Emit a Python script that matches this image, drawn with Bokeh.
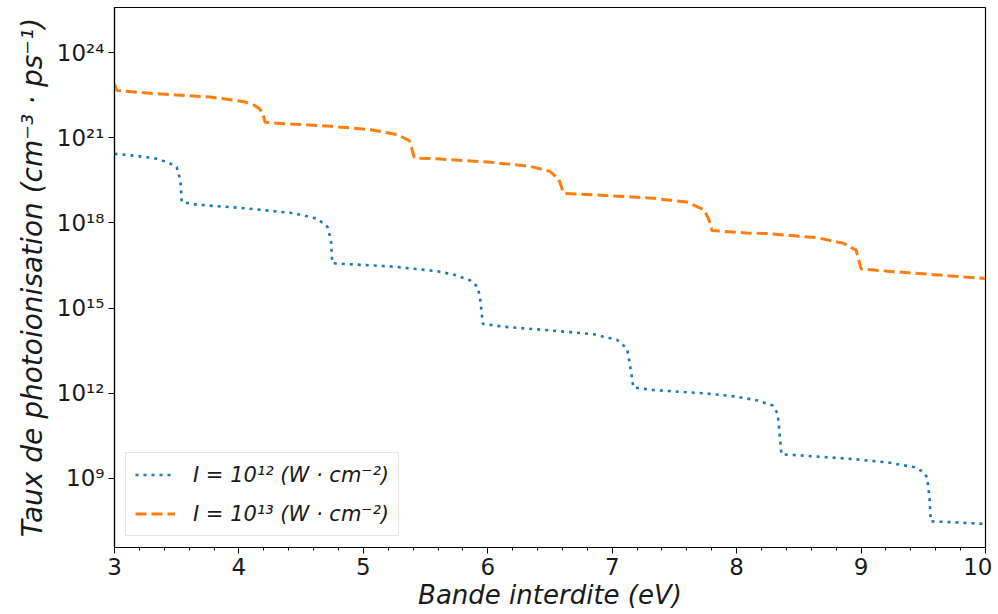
from bokeh.plotting import figure
from bokeh.models import (Range1d, FixedTicker, SingleIntervalTicker,
                          CustomJSTickFormatter, Legend, LegendItem, ColumnDataSource)
from bokeh.embed import file_html
from bokeh.resources import INLINE

# ---- data ----
# I = 1e12 W/cm^2 (blue, dotted)
gap_1e12 = [3.00, 3.10, 3.32, 3.44, 3.50, 3.53, 3.54, 3.66, 4.04, 4.44, 4.63, 4.71,
            4.74, 4.75, 4.84, 5.24, 5.46, 5.59, 5.73, 5.86, 5.92, 5.94, 5.96, 6.13,
            6.53, 6.85, 7.04, 7.12, 7.15, 7.17, 7.33, 7.74, 7.98, 8.17, 8.29, 8.33,
            8.35, 8.36, 8.51, 8.92, 9.21, 9.43, 9.50, 9.53, 9.55, 9.56, 9.72, 10.00]
rate_1e12 = [2.7e20, 2.5e20, 1.9e20, 1.3e20, 9.1e19, 3.1e19, 5.4e18, 4.4e18, 3.3e18,
             2.2e18, 1.4e18, 7.4e17, 2.4e17, 3.8e16, 3.6e16, 2.9e16, 2.3e16, 2.0e16,
             1.5e16, 9.3e15, 5.5e15, 1.9e15, 2.8e14, 2.2e14, 1.6e14, 1.2e14, 7.6e13,
             3.7e13, 6.3e12, 1.6e12, 1.3e12, 1.0e12, 7.8e11, 5.6e11, 3.7e11, 1.9e11,
             2.2e10, 7.1e9, 6.5e9, 4.9e9, 3.7e9, 2.5e9, 1.7e9, 1.1e9, 2.2e8, 3.1e7,
             2.9e7, 2.5e7]

# I = 1e13 W/cm^2 (orange, dashed)
gap_1e13 = [3.00, 3.02, 3.24, 3.50, 3.77, 3.99, 4.05, 4.12, 4.16, 4.19, 4.21, 4.36,
            4.71, 5.06, 5.27, 5.37, 5.41, 5.46, 5.59, 6.00, 6.34, 6.50, 6.57, 6.61,
            6.80, 7.33, 7.60, 7.74, 7.78, 7.80, 8.08, 8.25, 8.65, 8.86, 8.96, 9.00,
            9.21, 9.59, 10.00]
rate_1e13 = [7.9e22, 4.6e22, 3.8e22, 3.2e22, 2.7e22, 2.0e22, 1.8e22, 1.4e22, 1.1e22,
             7.9e21, 3.5e21, 3.1e21, 2.6e21, 1.9e21, 1.3e21, 7.9e20, 2.0e20, 1.9e20,
             1.8e20, 1.4e20, 9.8e19, 6.5e19, 3.5e19, 1.1e19, 1.0e19, 7.4e18, 5.4e18,
             2.9e18, 1.2e18, 5.4e17, 4.4e17, 4.2e17, 3.0e17, 1.9e17, 1.1e17, 2.4e16,
             2.0e16, 1.5e16, 1.1e16]

y_ticks = [1e9, 1e12, 1e15, 1e18, 1e21, 1e24]
x_ticks = [3, 4, 5, 6, 7, 8, 9, 10]

labels = ["I = 10¹² (W · cm⁻²)", "I = 10¹³ (W · cm⁻²)"]
x_label = "Bande interdite (eV)"
y_label = "Taux de photoionisation (cm⁻³ · ps⁻¹)"

FONT = "DejaVu Sans"

p = figure(width=992, height=612, y_axis_type="log",
           x_range=Range1d(3, 10), y_range=Range1d(10 ** 6.57, 10 ** 25.585),
           output_backend="svg", toolbar_location=None,
           min_border_left=114, min_border_right=7, min_border_top=7,
           min_border_bottom=65)

p.background_fill_color = "white"
p.border_fill_color = "white"
p.outline_line_color = "black"
p.outline_line_width = 1.2
p.grid.visible = False

src1 = ColumnDataSource(dict(x=gap_1e12, y=rate_1e12))
src2 = ColumnDataSource(dict(x=gap_1e13, y=rate_1e13))

r1 = p.line("x", "y", source=src1, line_color="#1f77b4", line_width=2.6,
            line_dash="3 5")
r2 = p.line("x", "y", source=src2, line_color="#ff7f0e", line_width=3,
            line_dash="11 5")

# x axis
p.xaxis.ticker = SingleIntervalTicker(interval=1, num_minor_ticks=5)
p.xaxis.axis_label = x_label
# y axis
p.yaxis.ticker = FixedTicker(ticks=y_ticks, minor_ticks=[])
p.yaxis.formatter = CustomJSTickFormatter(code="""
const sup = {"0":"⁰","1":"¹","2":"²","3":"³","4":"⁴","5":"⁵","6":"⁶","7":"⁷","8":"⁸","9":"⁹","-":"⁻"};
const e = Math.round(Math.log10(tick));
return "10" + String(e).split("").map(c => sup[c]).join("");
""")
p.yaxis.axis_label = y_label

for ax in (p.xaxis[0], p.yaxis[0]):
    ax.axis_line_color = "black"
    ax.axis_line_width = 1.2
    ax.major_tick_line_color = "black"
    ax.minor_tick_line_color = "black"
    ax.major_tick_out = 6
    ax.major_tick_in = 0
    ax.minor_tick_out = 3
    ax.minor_tick_in = 0
    ax.major_label_text_font = FONT
    ax.major_label_text_font_size = "23px"
    ax.major_label_text_color = "#1a1a1a"
    ax.major_label_standoff = 4
    ax.axis_label_text_font = FONT
    ax.axis_label_text_font_style = "italic"
    ax.axis_label_text_color = "#1a1a1a"

p.xaxis.axis_label_text_font_size = "26px"
p.yaxis.axis_label_text_font_size = "28px"
p.xaxis.axis_label_standoff = 2
p.yaxis.axis_label_standoff = 5

legend = Legend(items=[LegendItem(label=labels[0], renderers=[r1]),
                       LegendItem(label=labels[1], renderers=[r2])],
                location="bottom_left")
legend.margin = 11
legend.padding = 9
legend.spacing = 14
legend.glyph_width = 40
legend.glyph_height = 25
legend.label_height = 25
legend.label_standoff = 18
legend.label_text_font = FONT
legend.label_text_font_style = "italic"
legend.label_text_font_size = "21px"
legend.label_text_color = "#1a1a1a"
legend.border_line_color = "#cccccc"
legend.border_line_width = 1.2
legend.background_fill_color = "white"
legend.background_fill_alpha = 0.8
p.add_layout(legend)

open("out.html", "w").write(file_html(p, INLINE))
